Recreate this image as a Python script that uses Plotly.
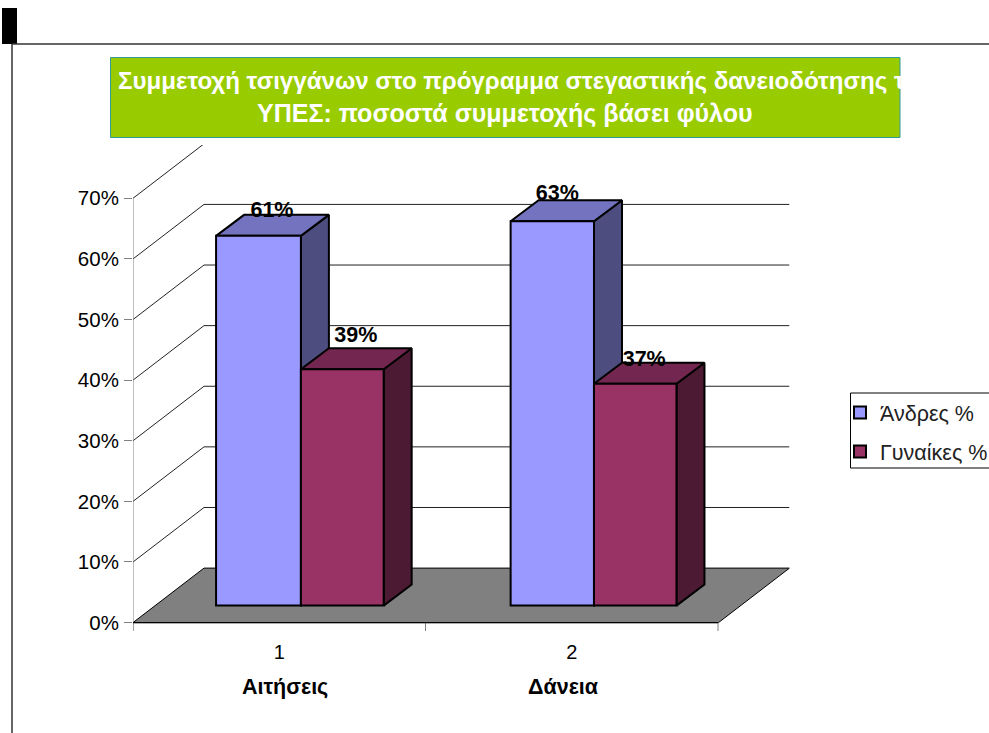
import plotly.graph_objects as go

# ---- data ----
groups = [1, 2]
group_names = ["Αιτήσεις", "Δάνεια"]
men = [61, 63.4]
women = [39, 36.6]
series_names = ["Άνδρες %", "Γυναίκες %"]
y_ticks = [0, 10, 20, 30, 40, 50, 60, 70]
title_line1 = "Συμμετοχή τσιγγάνων στο πρόγραμμα στεγαστικής δανειοδότησης της"
title_line2 = "ΥΠΕΣ: ποσοστά συμμετοχής βάσει φύλου"

# ---- layout constants (pixels of the 989x733 page) ----
W, H = 989, 733
X0_PX, X_RIGHT_PX = 133.0, 789.5
Y_ZERO_PX, Y70_PX, Y_BOTTOM_PX, Y_TOP_PX = 622.6, 198.3, 631.0, 145.0
UNIT_X = 292.5
UNIT_Y = (Y_ZERO_PX - Y70_PX) / 70.0
WALL_DX, WALL_DY = 71.0 / UNIT_X, 54.5 / UNIT_Y     # depth of chart box
BAR_DX, BAR_DY = 28.0 / UNIT_X, 21.0 / UNIT_Y       # depth of bars
BASE = 17.0 / UNIT_Y                                # bars stand this far up the floor
BAR_LEFT = [[-0.216, -0.209], [0.074, 0.076]]       # per series, per group
BAR_WIDTH = [[0.290, 0.285], [0.283, 0.282]]
XMIN = 0.5
XMAX = XMIN + (X_RIGHT_PX - X0_PX) / UNIT_X
YMIN = -(Y_BOTTOM_PX - Y_ZERO_PX) / UNIT_Y
YMAX = (Y_ZERO_PX - Y_TOP_PX) / UNIT_Y

COL = {
    "men": ("#9999FF", "#7373BF", "#4D4D80"),
    "women": ("#993366", "#732650", "#4D1A33"),
}
FONT = "Liberation Sans, Arial, sans-serif"

fig = go.Figure()


def poly(xs, ys, fill, width=2.0, color="#000000"):
    fig.add_trace(go.Scatter(x=xs, y=ys, mode="lines", fill="toself", fillcolor=fill,
                             line=dict(color=color, width=width), hoverinfo="skip",
                             showlegend=False, xaxis="x", yaxis="y"))


def lines(xs, ys, color="#000000", width=1.0):
    fig.add_trace(go.Scatter(x=xs, y=ys, mode="lines", line=dict(color=color, width=width),
                             hoverinfo="skip", showlegend=False, xaxis="x", yaxis="y"))


# walls: grid lines
gx, gy = [], []
for t in y_ticks[1:]:
    gx += [XMIN, XMIN + WALL_DX, XMAX, None]
    gy += [t, t + WALL_DY, t + WALL_DY, None]
lines(gx, gy, "#222222", 1.0)

# floor
poly([XMIN, XMIN + WALL_DX, XMAX, XMAX - WALL_DX, XMIN], [0, WALL_DY, WALL_DY, 0, 0], "#808080", 1.0)

# axis lines and ticks
lines([XMIN, XMIN], [YMIN, 70], "#808080", 1.0)
tx, ty = [], []
for v in [XMIN, XMIN + 1, XMIN + 2]:
    tx += [v, v, None]
    ty += [0, YMIN, None]
lines(tx, ty, "#808080", 1.0)
lines([XMIN, XMIN + 2], [0, 0], "#000000", 1.2)

# side and top faces of the bars
for s, (vals, key) in enumerate([(men, "men"), (women, "women")]):
    for j, (g, v) in enumerate(zip(groups, vals)):
        left = g + BAR_LEFT[s][j]
        right = left + BAR_WIDTH[s][j]
        top = BASE + v
        poly([right, right + BAR_DX, right + BAR_DX, right, right],
             [BASE, BASE + BAR_DY, top + BAR_DY, top, BASE], COL[key][2])
        poly([left, left + BAR_DX, right + BAR_DX, right, left],
             [top, top + BAR_DY, top + BAR_DY, top, top], COL[key][1])

# front faces are real bars on an overlay, so they sit above the side faces
for s, (vals, key) in enumerate([(men, "men"), (women, "women")]):
    fig.add_trace(go.Bar(x=groups, y=vals, base=BASE, width=BAR_WIDTH[s], offset=BAR_LEFT[s],
                         name=series_names[s], legendgroup=key,
                         marker=dict(color=COL[key][0], line=dict(color="#000000", width=2.0)),
                         hoverinfo="skip", xaxis="x2", yaxis="y2"))

# data labels (nudges per series, per group, in pixels)
label_dx = [[13.5, 5.0], [13.5, 9.0]]
label_dy = [[24.0, 27.0], [33.0, 23.0]]
lx, ly, lt = [], [], []
for s, vals in enumerate([men, women]):
    for j, (g, v) in enumerate(zip(groups, vals)):
        lx.append(g + BAR_LEFT[s][j] + BAR_WIDTH[s][j] / 2 + label_dx[s][j] / UNIT_X)
        ly.append(BASE + v + label_dy[s][j] / UNIT_Y)
        lt.append(f"<b>{round(v)}%</b>")
fig.add_trace(go.Scatter(x=lx, y=ly, text=lt, mode="text", textposition="middle center",
                         textfont=dict(family=FONT, size=21.5, color="#000000"), hoverinfo="skip",
                         showlegend=False, xaxis="x2", yaxis="y2", cliponaxis=False))

dom_x = [X0_PX / W, X_RIGHT_PX / W]
dom_y = [1 - Y_BOTTOM_PX / H, 1 - Y_TOP_PX / H]


def px(x):
    return x / W


def py(y):
    return 1 - y / H


shapes = [
    dict(type="rect", xref="paper", yref="paper", x0=px(2), x1=px(17), y0=py(8), y1=py(44),
         fillcolor="#000000", line=dict(width=0)),
    dict(type="line", xref="paper", yref="paper", x0=px(12), x1=px(989), y0=py(44), y1=py(44),
         line=dict(color="#333333", width=1.5)),
    dict(type="line", xref="paper", yref="paper", x0=px(12), x1=px(12), y0=py(44), y1=py(733),
         line=dict(color="#333333", width=1.5)),
    dict(type="rect", xref="paper", yref="paper", x0=px(110.5), x1=px(900), y0=py(57.5), y1=py(137.5),
         fillcolor="#99CC00", line=dict(color="#339999", width=1)),
    dict(type="rect", xref="paper", yref="paper", x0=px(850.5), x1=px(992), y0=py(393), y1=py(468),
         fillcolor="rgba(0,0,0,0)", line=dict(color="#000000", width=1)),
]

annotations = [
    dict(xref="paper", yref="paper", x=px(117), y=py(81), xanchor="left", yanchor="middle",
         text=f"<b>{title_line1}</b>", showarrow=False, width=783, align="left", borderpad=0,
         font=dict(family=FONT, size=24.1, color="#FFFFFF")),
    dict(xref="paper", yref="paper", x=px(505), y=py(114), xanchor="center", yanchor="middle",
         text=f"<b>{title_line2}</b>", showarrow=False,
         font=dict(family=FONT, size=25, color="#FFFFFF")),
    dict(xref="paper", yref="paper", x=px(285), y=py(687), xanchor="center", yanchor="middle",
         text=f"<b>{group_names[0]}</b>", showarrow=False, font=dict(family=FONT, size=21.5, color="#000000")),
    dict(xref="paper", yref="paper", x=px(563), y=py(687), xanchor="center", yanchor="middle",
         text=f"<b>{group_names[1]}</b>", showarrow=False, font=dict(family=FONT, size=21.5, color="#000000")),
]

fig.update_layout(
    width=W, height=H, autosize=False,
    margin=dict(l=0, r=0, t=0, b=0, pad=0, autoexpand=False),
    paper_bgcolor="#FFFFFF", plot_bgcolor="rgba(0,0,0,0)",
    barmode="overlay", shapes=shapes, annotations=annotations,
    font=dict(family=FONT, size=20.5, color="#000000"),
    xaxis=dict(domain=dom_x, range=[XMIN, XMAX], tickvals=groups, ticktext=[str(g) for g in groups],
               ticks="", showgrid=False, zeroline=False, showline=False,
               tickfont=dict(family=FONT, size=20), ticklabelstandoff=7),
    yaxis=dict(domain=dom_y, range=[YMIN, YMAX], tickvals=y_ticks, ticktext=[f"{t}%" for t in y_ticks],
               ticks="outside", ticklen=8, tickwidth=1, tickcolor="#808080", showgrid=False,
               zeroline=False, showline=False, tickfont=dict(family=FONT, size=20.5), ticklabelstandoff=1),
    xaxis2=dict(domain=dom_x, range=[XMIN, XMAX], overlaying="x", visible=False),
    yaxis2=dict(domain=dom_y, range=[YMIN, YMAX], overlaying="y", visible=False),
    legend=dict(x=px(840), y=py(392), xanchor="left", yanchor="top", borderwidth=0,
                bgcolor="rgba(0,0,0,0)", font=dict(family=FONT, size=21.5, color="#222222"),
                itemwidth=30, tracegroupgap=8),
)

fig.write_html("out.html", config={"displayModeBar": False},
               post_script="document.body.style.margin='0';document.documentElement.style.overflow='hidden';")
